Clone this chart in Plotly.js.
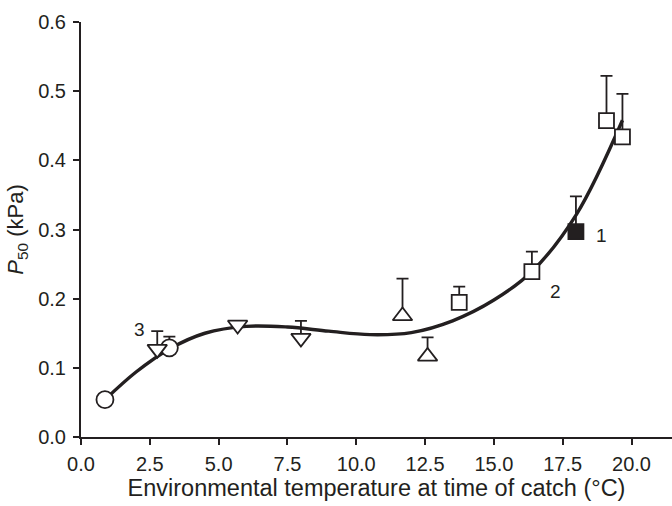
<!DOCTYPE html>
<html>
<head>
<meta charset="utf-8">
<script src="https://cdn.plot.ly/plotly-3.0.1.min.js"></script>
<style>html,body{margin:0;padding:0;background:#fff;}#chart{width:672px;height:506px;}</style>
</head>
<body>
<div id="chart"></div>
<script>
// Fitted curve
const curveX = [0.87, 2.0, 3.2, 4.5, 6.0, 7.5, 9.0, 10.5, 12.0, 13.5, 15.0, 16.4, 18.0, 19.67];
const curveY = [0.054, 0.094, 0.127, 0.150, 0.160, 0.159, 0.153, 0.148, 0.151, 0.168, 0.198, 0.240, 0.322, 0.458];

// Open circles
const circX = [0.87, 3.21];
const circY = [0.054, 0.129];
const circErr = [0, 0.016];

// Open down-triangles
const triDX = [2.77, 5.69, 7.99];
const triDY = [0.127, 0.162, 0.143];
const triDErr = [0.026, 0, 0.025];

// Open up-triangles
const triUX = [11.68, 12.59];
const triUY = [0.175, 0.1165];
const triUErr = [0.054, 0.0275];

// Open squares
const sqX = [13.74, 16.38, 19.09, 19.67];
const sqY = [0.1945, 0.239, 0.4575, 0.434];
const sqErr = [0.023, 0.029, 0.0645, 0.062];

// Filled square
const fsqX = [17.98];
const fsqY = [0.297];
const fsqErr = [0.051];

// Point labels
const labelText = ["1", "2", "3"];
const labelX = [18.9, 17.25, 2.12];
const labelY = [0.291, 0.21, 0.155];

const ink = '#231f20';
function errs(arr) {
  return {type: 'data', symmetric: false, array: arr, arrayminus: arr.map(() => 0),
          color: ink, thickness: 1.8, width: 6};
}
function pts(x, y, e, symbol, fill, size) {
  return {x: x, y: y, type: 'scatter', mode: 'markers', error_y: errs(e),
          marker: {symbol: symbol, size: size, color: fill, line: {color: ink, width: 1.8}},
          showlegend: false, hoverinfo: 'x+y'};
}

const traces = [
  {x: curveX, y: curveY, type: 'scatter', mode: 'lines',
   line: {color: ink, width: 3.4, shape: 'spline', smoothing: 1.0}, showlegend: false},
  pts(circX, circY, circErr, 'circle', '#ffffff', 17),
  pts(triDX, triDY, triDErr, 'triangle-down', '#ffffff', 17),
  pts(triUX, triUY, triUErr, 'triangle-up', '#ffffff', 17),
  pts(sqX, sqY, sqErr, 'square', '#ffffff', 15),
  pts(fsqX, fsqY, fsqErr, 'square', ink, 15)
];

const fontFam = 'Liberation Sans, Arial, Helvetica, sans-serif';
const annotations = labelText.map((t, i) => ({
  x: labelX[i], y: labelY[i], text: t, showarrow: false,
  font: {family: fontFam, size: 19, color: ink}
}));

const layout = {
  width: 672, height: 506,
  margin: {l: 81, r: 0, t: 22, b: 69},
  paper_bgcolor: '#ffffff', plot_bgcolor: '#ffffff',
  font: {family: fontFam, size: 20, color: ink},
  xaxis: {
    range: [0, 21.47], dtick: 2.5, tick0: 0, tickformat: '.1f',
    showgrid: false, zeroline: false, showline: true, linecolor: ink, linewidth: 2,
    ticks: 'outside', ticklen: 6, tickwidth: 2, tickcolor: ink,
    ticklabelstandoff: 2,
    tickfont: {size: 20, color: ink},
    title: {text: 'Environmental temperature at time of catch (°C)', font: {size: 23.5, color: ink}, standoff: 4}
  },
  yaxis: {
    range: [0, 0.6], dtick: 0.1, tick0: 0, tickformat: '.1f',
    showgrid: false, zeroline: false, showline: true, linecolor: ink, linewidth: 2,
    ticks: 'outside', ticklen: 6, tickwidth: 2, tickcolor: ink,
    ticklabelstandoff: 3,
    tickfont: {size: 20, color: ink},
    title: {text: '<i>P</i><sub>50</sub> (kPa)', font: {size: 22, color: ink}, standoff: 8}
  },
  annotations: annotations
};

Plotly.newPlot('chart', traces, layout, {displayModeBar: false, staticPlot: true});
</script>
</body>
</html>
